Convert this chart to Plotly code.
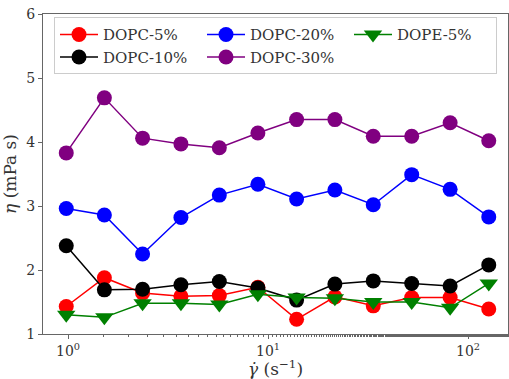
import plotly.graph_objects as go

shear_rate = [0.98, 1.52, 2.36, 3.67, 5.71, 8.9, 13.9, 21.6, 33.6, 52.3, 81.4, 127]
dopc5 = [1.43, 1.88, 1.64, 1.59, 1.60, 1.73, 1.23, 1.58, 1.44, 1.57, 1.57, 1.39]
dopc10 = [2.38, 1.69, 1.70, 1.77, 1.82, 1.72, 1.53, 1.78, 1.83, 1.79, 1.75, 2.08]
dopc20 = [2.96, 2.86, 2.25, 2.82, 3.17, 3.34, 3.11, 3.25, 3.02, 3.49, 3.26, 2.83]
dopc30 = [3.83, 4.69, 4.06, 3.97, 3.91, 4.14, 4.35, 4.35, 4.09, 4.09, 4.30, 4.02]
dope5 = [1.30, 1.26, 1.48, 1.48, 1.46, 1.62, 1.57, 1.56, 1.50, 1.50, 1.41, 1.79]

series = [
    ("DOPC-5%", dopc5, "#ff0000", "circle", 1),
    ("DOPC-10%", dopc10, "#000000", "circle", 4),
    ("DOPC-20%", dopc20, "#0000ff", "circle", 2),
    ("DOPC-30%", dopc30, "#800080", "circle", 5),
    ("DOPE-5%", dope5, "#008000", "triangle-down", 3),
]

FONT = "DejaVu Serif"
W, H = 509, 379
ML, MR = 10, 1
GW = W - ML - MR
fig = go.Figure()
for name, vals, color, sym, rank in series:
    fig.add_trace(go.Scatter(
        x=shear_rate, y=vals, name=name, mode="lines+markers",
        line=dict(color=color, width=1.5),
        marker=dict(color=color, size=15 if sym == "circle" else 16, symbol=sym,
                    line=dict(width=0)),
        legendrank=rank,
    ))

fig.update_layout(
    template="none",
    width=W, height=H,
    margin=dict(l=ML, r=MR, t=14, b=45),
    paper_bgcolor="white", plot_bgcolor="white",
    font=dict(family=FONT, size=14, color="#333333"),
    showlegend=True,
    legend=dict(
        orientation="h", x=(54 - ML) / GW, y=0.99, xanchor="left", yanchor="top",
        entrywidth=94, entrywidthmode="pixels",
        bgcolor="white", bordercolor="#cccccc", borderwidth=1,
        font=dict(family=FONT, size=15, color="#333333"),
        itemwidth=38, tracegroupgap=0,
    ),
    xaxis=dict(
        type="log", range=[-0.125, 2.2],
        domain=[(43 - ML) / GW, 1],
        tickvals=[1, 10, 100],
        ticktext=["10<sup>0</sup>", "10<sup>1</sup>", "10<sup>2</sup>"],
        ticks="outside", ticklen=4, tickcolor="#666666",
        minor=dict(ticks="outside", ticklen=2, tickcolor="#666666"),
        showgrid=False, zeroline=False,
        showline=True, linecolor="#666666", linewidth=1, mirror=True,
        title=dict(text="<i>γ̇</i> (s<sup>−1</sup>)", font=dict(size=17), standoff=5),
    ),
    yaxis=dict(
        range=[1, 6], tickvals=[1, 2, 3, 4, 5, 6],
        ticks="outside", ticklen=4, tickcolor="#666666",
        showgrid=False, zeroline=False,
        showline=True, linecolor="#666666", linewidth=1, mirror=True,
        title=dict(text="<i>η</i> (mPa s)", font=dict(size=17), standoff=8),
    ),
)

fig.write_html("out.html")
